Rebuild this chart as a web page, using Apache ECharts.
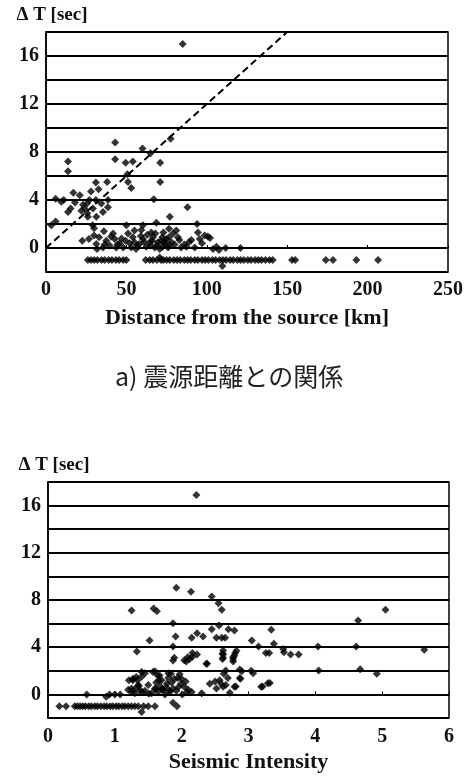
<!DOCTYPE html>
<html><head><meta charset="utf-8">
<script src="https://cdn.jsdelivr.net/npm/echarts@6/dist/echarts.min.js"></script>
<style>html,body{margin:0;padding:0;background:#fff}#c{width:474px;height:779px}</style>
</head><body><div id="c"></div>
<script>
// ---- Data ----
const yTickLabels = [0, 4, 8, 12, 16];
const distTickLabels = [0, 50, 100, 150, 200, 250];
const intensityTickLabels = [0, 1, 2, 3, 4, 5, 6];
const captionA = 'a) 震源距離との関係';
const yAxisTitle = 'Δ T [sec]';
const distAxisTitle = 'Distance from the source [km]';
const intensityAxisTitle = 'Seismic Intensity';
const referenceLine = [[0, 0], [150, 18]];

// Distance [km], ΔT [sec]
const distancePoints = [
 [85,17],[43,8.8],[60,8.3],[43,7.4],[49.5,7.1],[54,7.2],[71,7.1],[65,7.9],[77.5,9.1],
 [13.7,7.2],[13.7,6.4],[50.6,6.15],[51,5.5],[71,5.5],[53,5.0],[67,4.07],[88,3.4],
 [31,5.45],[38,5.5],[28,4.7],[32.7,4.9],[21,4.4],[17,4.6],[6,4.1],[9.5,3.85],[11,4.0],
 [18,3.8],[23,3.6],[25.5,3.7],[27,4.0],[31,4.0],[34.4,3.7],[38.5,4.0],[24,3.3],[25.7,2.9],
 [22,3.1],[29.2,3.3],[35.4,3.0],[38.5,3.4],[13.7,3.0],[15.3,3.3],[31.3,2.6],[26,2.6],
 [3.3,1.9],[6,2.2],[29,1.9],[29.9,1.65],[77,2.6],[94,2.0],[94.5,1.3],[50,1.9],[60.3,1.9],
 [68.6,2.1],[76.5,1.6],[81,1.46],[55,1.46],[59.3,1.5],[65.5,1.3],[36,1.4],[41.7,1.2],
 [22.6,0.6],[26.7,0.76],[29.9,1.04],[31.3,0.34],[31.7,-0.08],[35.4,0.05],[37.5,0.6],
 [39.6,0.2],[42.7,0.76],[43.7,0.05],[45.8,0.4],[48,0.05],[49.5,0.6],[51,1.2],[53,0.05],
 [55,0.48],[56,-0.08],[58,0.34],[60.3,0.76],[62.4,0.1],[64.5,0.48],[66.5,0.9],[67.6,0.05],
 [69.6,0.48],[70.7,-0.08],[72.3,0.9],[73.8,0.34],[74.8,0.76],[75.9,0.05],[78,0.48],[79,1.2],
 [83,0.67],[84,0.05],[87.3,0.1],[90.4,0.67],[92.5,0.05],[95.6,0.76],[98.7,1.04],[100.7,0.95],
 [102,0.84],[103.9,-0.08],[106,0.1],[107.6,-0.17],[111.7,0],[120.9,0],[70.7,-0.79],[109.7,-1.5],
 [33,0.9],[36.5,0.3],[40.5,0.95],[44.5,0.3],[47,0.8],[52,0.4],[54,0.9],[57,0.2],[59,1.0],
 [61,0.5],[63,1.1],[65,0.2],[66,0.6],[68,1.2],[69,0.2],[71.5,0.6],[72.5,0.1],[73,1.3],
 [74,0.5],[76.5,0.9],[77,0.2],[80,0.3],[82,0.9],[86,0.3],[89,0.5],[97,0.4],
 [26,-1],[28,-1],[30,-1],[32,-1],[34.5,-1],[36.5,-1],[39,-1],[41,-1],[43.5,-1],[45.5,-1],[48,-1],[50,-1],
 [62,-1],[64.5,-1],[66.5,-1],[69,-1],[71.5,-1],[73,-1],
 [75,-1],[77,-1],[79.5,-1],[81.5,-1],[83.5,-1],[86,-1],[88,-1],[90,-1],[92.5,-1],[94.5,-1],
 [97,-1],[99,-1],[101,-1],[103.5,-1],[105.5,-1],[108,-1],[110,-1],[112,-1],[114.5,-1],
 [116.5,-1],[119,-1],[121,-1],[123,-1],[125.5,-1],[127.5,-1],[130,-1],[132,-1],[134,-1],
 [136.5,-1],[139,-1],[141,-1],[153,-1],[155,-1],[174,-1],[178.5,-1],[193,-1],[206.5,-1]
];

// Seismic intensity, ΔT [sec]
const intensityPoints = [
 [2.22,16.9],[1.92,9.03],[2.14,8.7],[2.45,8.3],[2.55,7.73],[2.6,7.17],[1.25,7.1],[1.58,7.28],
 [1.63,7.05],[5.05,7.17],[4.64,6.26],[1.87,6.04],[2.56,5.84],[2.7,5.53],[2.79,5.42],[3.34,5.47],
 [1.52,4.57],[1.91,4.91],[2.15,4.8],[2.23,5.19],[2.32,4.91],[2.45,5.53],[2.52,4.8],[2.6,4.8],
 [2.65,4.8],[3.05,4.57],[3.38,4.29],[3.15,4.06],[4.61,4.06],[4.04,4.06],[3.52,3.84],[3.53,3.58],
 [3.63,3.39],[3.75,3.39],[3.26,3.5],[3.31,3.5],[5.63,3.78],[1.33,3.64],[1.87,4.06],[1.87,2.88],
 [2.07,2.79],[2.12,3.0],[2.16,3.2],[2.23,3.39],[2.38,2.6],[2.61,3.44],[2.61,3.0],[2.62,3.72],
 [2.77,3.16],[2.8,3.5],[2.77,2.79],[2.66,2.03],[2.63,1.75],[1.4,1.89],[1.6,1.97],[1.8,1.8],
 [1.67,1.6],[2.9,1.97],[3.07,1.8],[4.05,2.03],[4.67,2.14],[4.92,1.75],[2.88,1.33],[2.81,0.68],
 [3.21,0.68],[3.32,0.96],[1.27,1.33],[1.32,1.47],
 [0.58,0],[0.87,-0.2],[0.92,0],[1.0,0],[1.08,0],[1.4,-1.5],[1.87,-0.7],[1.93,-1.0],
 [1.25,0.5],[1.27,1.2],[1.34,1.2],[1.36,0.7],[1.4,1.5],[1.45,1.8],[1.57,1.9],[1.64,1.6],
 [1.66,1.2],[1.71,0.45],[1.61,0.45],[1.51,0.05],[1.41,0.2],[1.31,0.5],[1.21,1.2],
 [1.84,1.74],[1.89,1.3],[1.94,1.4],[1.99,0.9],[2.04,0.65],[2.08,0.2],[1.92,0.3],[1.87,0.5],
 [2.01,0.0],[1.82,0.2],[2.06,1.1],[1.97,1.7],[2.42,0.9],[2.5,1.1],[2.57,1.2],[2.62,0.65],
 [2.69,1.4],[2.66,0.8],[2.79,0.65],[2.52,0.5],[2.72,0.15],[2.3,0.1],[2.87,1.4],[2.87,2.1],
 [3.04,2.0],[3.19,0.65],[3.29,0.95],[2.59,0.9],[2.37,2.6],[2.04,2.9],[2.09,3.15],[2.16,3.5],
 [2.62,3.4],[2.62,3.1],[2.79,3.3],[2.77,3.0],[2.82,3.7],[1.89,3.1],
 [1.45,0.3],[1.5,0.8],[1.55,0.1],[1.6,0.5],[1.62,1.0],[1.65,0.2],[1.68,0.7],[1.7,1.2],
 [1.72,0.4],[1.75,0.0],[1.78,0.9],[1.8,1.4],[1.82,0.3],[1.77,0.6],[1.85,1.0],[1.2,0.4],
 [1.25,0.2],[1.3,0.1],[1.35,0.8],[1.38,0.3],[2.1,0.4],[2.15,0.2],[1.95,0.6],[2.0,1.3],
 [0.17,-1],[0.27,-1],[0.4,-1],[0.44,-1],[0.48,-1],[0.52,-1],[0.56,-1],[0.61,-1],[0.65,-1],
 [0.7,-1],[0.74,-1],[0.79,-1],[0.84,-1],[0.88,-1],[0.93,-1],[0.97,-1],[1.02,-1],[1.06,-1],
 [1.11,-1],[1.15,-1],[1.2,-1],[1.25,-1],[1.3,-1],[1.35,-1],[1.43,-1],[1.5,-1],[1.6,-1]
];

// ---- Chart ----
const serif = '"Liberation Serif", "DejaVu Serif", serif';
const axisLabelStyle = { fontFamily: serif, fontWeight: 'bold', fontSize: 20, color: '#111' };
const chart = echarts.init(document.getElementById('c'), null, { renderer: 'canvas' });

function yAxisCfg(gridIndex) {
  return {
    gridIndex, type: 'value', min: -2, max: 18, interval: 2,
    name: yAxisTitle, nameLocation: 'end', nameGap: 7,
    nameTextStyle: { fontFamily: serif, fontWeight: 'bold', fontSize: 19, color: '#111', align: 'center', padding: [0, 0, 0, 12] },
    axisLine: { show: true, lineStyle: { color: '#000', width: 1.5 } },
    axisTick: { show: false },
    axisLabel: Object.assign({ margin: 7, formatter: v => yTickLabels.includes(v) ? String(v) : '' }, axisLabelStyle),
    splitLine: { show: true, lineStyle: { color: '#000', width: 1.8 } }
  };
}

chart.setOption({
  animation: false,
  backgroundColor: '#fff',
  grid: [
    { left: 46, top: 32, width: 402, height: 240, show: true, borderColor: '#000', borderWidth: 1.5 },
    { left: 48, top: 482, width: 401, height: 236, show: true, borderColor: '#000', borderWidth: 1.5 }
  ],
  xAxis: [
    {
      gridIndex: 0, type: 'value', min: 0, max: 250, interval: 50,
      name: distAxisTitle, nameLocation: 'middle', nameGap: 35,
      nameTextStyle: { fontFamily: serif, fontWeight: 'bold', fontSize: 22, color: '#111' },
      axisLine: { show: true, lineStyle: { color: '#000', width: 1.5 } },
      axisTick: { show: true, inside: true, length: 3, lineStyle: { color: '#000' } },
      axisLabel: Object.assign({ margin: 8, formatter: v => distTickLabels.includes(v) ? String(v) : '' }, axisLabelStyle),
      splitLine: { show: false }
    },
    {
      gridIndex: 1, type: 'value', min: 0, max: 6, interval: 1,
      name: intensityAxisTitle, nameLocation: 'middle', nameGap: 33,
      nameTextStyle: { fontFamily: serif, fontWeight: 'bold', fontSize: 22, color: '#111' },
      axisLine: { show: true, lineStyle: { color: '#000', width: 1.5 } },
      axisTick: { show: true, inside: true, length: 3, lineStyle: { color: '#000' } },
      axisLabel: Object.assign({ margin: 9, formatter: v => intensityTickLabels.includes(v) ? String(v) : '' }, axisLabelStyle),
      splitLine: { show: false }
    }
  ],
  yAxis: [yAxisCfg(0), yAxisCfg(1)],
  graphic: [{
    type: 'text', left: 115, top: 364,
    style: { text: captionA, font: '25px "Noto Sans CJK JP", "Noto Sans", sans-serif', fill: '#222' }
  }],
  series: [
    {
      type: 'line', xAxisIndex: 0, yAxisIndex: 0, data: referenceLine, symbol: 'none',
      lineStyle: { color: '#000', width: 2, type: [7, 4] }, silent: true, z: 3
    },
    {
      type: 'scatter', xAxisIndex: 0, yAxisIndex: 0, data: distancePoints,
      symbol: 'diamond', symbolSize: 8, itemStyle: { color: '#000' }, z: 4
    },
    {
      type: 'scatter', xAxisIndex: 1, yAxisIndex: 1, data: intensityPoints,
      symbol: 'diamond', symbolSize: 8, itemStyle: { color: '#000' }, z: 4
    }
  ]
});
</script>
</body></html>
